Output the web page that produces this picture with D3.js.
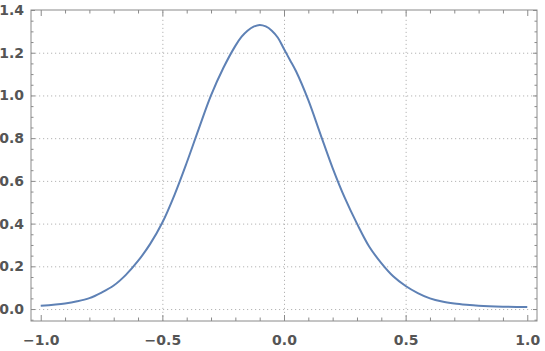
<!DOCTYPE html>
<html>
<head>
<meta charset="utf-8">
<script src="https://cdn.jsdelivr.net/npm/d3@7"></script>
<style>
  html, body { margin: 0; padding: 0; background: #fff; }
  svg { display: block; }
  .lbl text { font-family: "DejaVu Sans", sans-serif; font-weight: bold; font-size: 14px; fill: #555; }
</style>
</head>
<body>
<svg id="chart" width="545" height="351"></svg>
<script>
// Data
const xs = [-1.0, -0.9, -0.85, -0.8, -0.75, -0.7, -0.65, -0.6, -0.55, -0.5, -0.45, -0.4, -0.35, -0.3, -0.25,
            -0.2, -0.175, -0.15, -0.125, -0.1, -0.075, -0.05, -0.025, 0.0, 0.025, 0.05,
            0.1, 0.15, 0.2, 0.25, 0.3, 0.35, 0.4, 0.45, 0.5, 0.55, 0.6, 0.65, 0.7, 0.75, 0.8, 0.9, 1.0];
const ys = [0.015, 0.026, 0.036, 0.051, 0.077, 0.11, 0.16, 0.225, 0.305, 0.405, 0.535, 0.685, 0.845, 1.0, 1.127,
            1.232, 1.274, 1.303, 1.322, 1.33, 1.323, 1.303, 1.27, 1.217, 1.165, 1.112,
            0.978, 0.818, 0.66, 0.52, 0.4, 0.293, 0.215, 0.152, 0.108, 0.075, 0.05, 0.035, 0.026, 0.02, 0.0155, 0.011, 0.009];
const xTickValues = [-1.0, -0.5, 0.0, 0.5, 1.0];
const xTickLabels = ["\u22121.0", "\u22120.5", "0.0", "0.5", "1.0"];
const yTickValues = [0.0, 0.2, 0.4, 0.6, 0.8, 1.0, 1.2, 1.4];
const yTickLabels = ["0.0", "0.2", "0.4", "0.6", "0.8", "1.0", "1.2", "1.4"];
const xGrid = [-0.5, 0.0, 0.5];
const yGrid = [0.0, 0.2, 0.4, 0.6, 0.8, 1.0, 1.2];
const xMinor = d3.range(-10, 11).map(d => d / 10).filter(d => Math.abs(d * 2 - Math.round(d * 2)) > 1e-9);
const yMinor = d3.range(-1, 29).map(d => d / 20).filter(d => Math.abs(d * 5 - Math.round(d * 5)) > 1e-9);

const L = 31, R = 537, T = 10, B = 321;
const svg = d3.select("#chart");
const x = d3.scaleLinear().domain([-1.04, 1.04]).range([L, R]);
const y = d3.scaleLinear().domain([-0.056, 1.4]).range([B, T]);
const W = R - L, H = B - T;

// gridlines
const gx = svg.append("g").attr("transform", `translate(0,${B})`)
  .call(d3.axisBottom(x).tickValues(xGrid).tickSize(-H).tickFormat(""));
const gy = svg.append("g").attr("transform", `translate(${L},0)`)
  .call(d3.axisLeft(y).tickValues(yGrid).tickSize(-W).tickFormat(""));
[gx, gy].forEach(g => {
  g.select(".domain").remove();
  g.selectAll("line").attr("stroke", "#b4b4b4").attr("stroke-width", 1).attr("stroke-dasharray", "1.2,2.8");
});

// curve
const pts = xs.map((d, i) => [d, ys[i]]);
svg.append("path").datum(pts)
  .attr("fill", "none").attr("stroke", "#5e81b5").attr("stroke-width", 2)
  .attr("stroke-linejoin", "round")
  .attr("d", d3.line().x(d => x(d[0])).y(d => y(d[1])).curve(d3.curveCatmullRom.alpha(0.5)));

const axisColor = "#8a8a8a";
function styleAxis(g) {
  g.selectAll(".domain").remove();
  g.selectAll("line").attr("stroke", axisColor).attr("stroke-width", 1);
}
// major ticks with labels
const axB = svg.append("g").attr("class", "lbl").attr("transform", `translate(0,${B})`)
  .call(d3.axisBottom(x).tickValues(xTickValues).tickSizeInner(-6).tickSizeOuter(0).tickPadding(14)
        .tickFormat((d, i) => xTickLabels[i]));
styleAxis(axB);
const axL = svg.append("g").attr("class", "lbl").attr("transform", `translate(${L},0)`)
  .call(d3.axisLeft(y).tickValues(yTickValues).tickSizeInner(-4).tickSizeOuter(0).tickPadding(7)
        .tickFormat((d, i) => yTickLabels[i]));
styleAxis(axL);
// mirrored ticks
const axT = svg.append("g").attr("transform", `translate(0,${T})`)
  .call(d3.axisTop(x).tickValues(xTickValues).tickSizeInner(-6).tickSizeOuter(0).tickFormat(""));
styleAxis(axT);
const axR = svg.append("g").attr("transform", `translate(${R},0)`)
  .call(d3.axisRight(y).tickValues(yTickValues).tickSizeInner(-4).tickSizeOuter(0).tickFormat(""));
styleAxis(axR);
// minor ticks
[[d3.axisBottom, B], [d3.axisTop, T]].forEach(([ax, pos]) => {
  const g = svg.append("g").attr("transform", `translate(0,${pos})`)
    .call(ax(x).tickValues(xMinor).tickSizeInner(-3.5).tickSizeOuter(0).tickFormat(""));
  styleAxis(g);
});
[[d3.axisLeft, L], [d3.axisRight, R]].forEach(([ax, pos]) => {
  const g = svg.append("g").attr("transform", `translate(${pos},0)`)
    .call(ax(y).tickValues(yMinor).tickSizeInner(-2.5).tickSizeOuter(0).tickFormat(""));
  styleAxis(g);
});

// frame
svg.append("rect").attr("x", L).attr("y", T).attr("width", W).attr("height", H)
  .attr("fill", "none").attr("stroke", axisColor).attr("stroke-width", 1);
</script>
</body>
</html>
